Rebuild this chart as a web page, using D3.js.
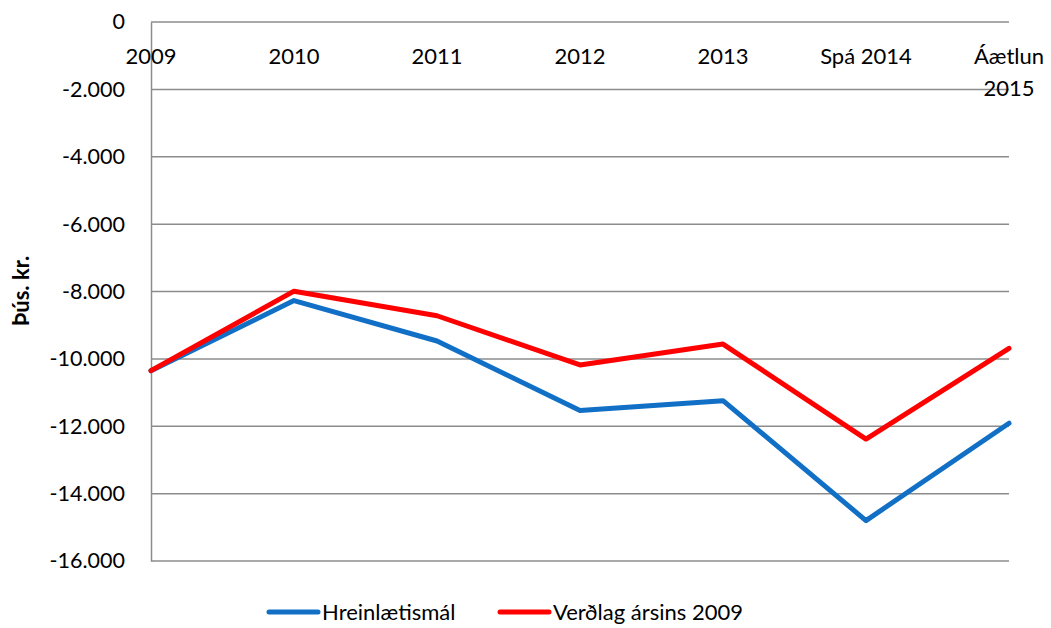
<!DOCTYPE html>
<html>
<head>
<meta charset="utf-8">
<script src="https://cdn.jsdelivr.net/npm/d3@7"></script>
<style>
  body { margin: 0; background: #fff; }
  text { font-family: Lato, "Open Sans", sans-serif; fill: #000; }
</style>
</head>
<body>
<div id="chart"></div>
<script>
//categories along the x axis (some labels wrap to two lines)
var years = ["2009", "2010", "2011", "2012", "2013", "Spá 2014", "Áætlun 2015"];

//series values in þús. kr.
var hreinlaetismal = [-10350, -8270, -9470, -11530, -11240, -14800, -11910];
var verdlag2009 = [-10350, -7990, -8720, -10180, -9560, -12380, -9690];

//y tick values
var yTicks = [0, -2000, -4000, -6000, -8000, -10000, -12000, -14000, -16000];

var seriesNames = ["Hreinlætismál", "Verðlag ársins 2009"];
var seriesColors = ["#1170c6", "#ff0000"];

var svgWidth = 1051, svgHeight = 628;
var plot = { left: 151, right: 1009, top: 22, bottom: 561 };

//icelandic number format: dot as thousands separator
var isLocale = d3.formatLocale({ decimal: ",", thousands: ".", grouping: [3], currency: ["", " kr."], minus: "-" });
var fmt = isLocale.format(",");

var svg = d3.select("#chart").append("svg")
    .attr("width", svgWidth)
    .attr("height", svgHeight);

var xScale = d3.scalePoint().domain(years).range([plot.left, plot.right]);
var yScale = d3.scaleLinear().domain([0, -16000]).range([plot.top, plot.bottom]);

//horizontal gridlines
svg.append("g").selectAll("line")
    .data(yTicks)
    .enter().append("line")
    .attr("x1", plot.left).attr("x2", plot.right)
    .attr("y1", d => yScale(d)).attr("y2", d => yScale(d))
    .attr("stroke", "#8c8c8c")
    .attr("stroke-width", 1.5);

//left axis line + labels
var leftAxis = d3.axisLeft(yScale).tickValues(yTicks).tickFormat(fmt).tickSize(0).tickPadding(26);
var yAxisG = svg.append("g")
    .attr("transform", `translate(${plot.left}, 0)`)
    .call(leftAxis);
yAxisG.select(".domain").attr("stroke", "#8c8c8c").attr("stroke-width", 1.5);
yAxisG.selectAll("text").style("font-size", "21.5px").style("font-family", "Lato, sans-serif");

//x category labels sit just under the zero line
var xLabels = svg.append("g").selectAll("text")
    .data(years)
    .enter().append("text")
    .attr("x", d => xScale(d))
    .attr("y", 64)
    .attr("text-anchor", "middle")
    .style("font-size", "22px");
xLabels.each(function(d) {
    var t = d3.select(this);
    //last label wraps because it sits at the edge
    if (d === "Áætlun 2015") {
        t.append("tspan").attr("x", xScale(d)).text("Áætlun");
        t.append("tspan").attr("x", xScale(d)).attr("dy", 32).text("2015");
    } else {
        t.text(d);
    }
});

//y axis title
svg.append("text")
    .attr("transform", `translate(29, 291) rotate(-90)`)
    .attr("text-anchor", "middle")
    .style("font-size", "22px")
    .style("font-weight", "bold")
    .text("Þús. kr.");

//lines
var line = d3.line()
    .x((d, i) => xScale(years[i]))
    .y(d => yScale(d));

[hreinlaetismal, verdlag2009].forEach(function(vals, i) {
    svg.append("path")
        .datum(vals)
        .attr("fill", "none")
        .attr("stroke", seriesColors[i])
        .attr("stroke-width", 5)
        .attr("stroke-linejoin", "round")
        .attr("stroke-linecap", "round")
        .attr("d", line);
});

//legend
var legendX = [269, 500];
var legend = svg.append("g").selectAll("g")
    .data(seriesNames)
    .enter().append("g")
    .attr("transform", (d, i) => `translate(${legendX[i]}, 612)`);
legend.append("line")
    .attr("x1", 0).attr("x2", 49)
    .attr("stroke", (d, i) => seriesColors[i])
    .attr("stroke-width", 5)
    .attr("stroke-linecap", "round");
legend.append("text")
    .attr("x", 53)
    .attr("y", 8)
    .style("font-size", "22px")
    .text(d => d);
</script>
</body>
</html>
